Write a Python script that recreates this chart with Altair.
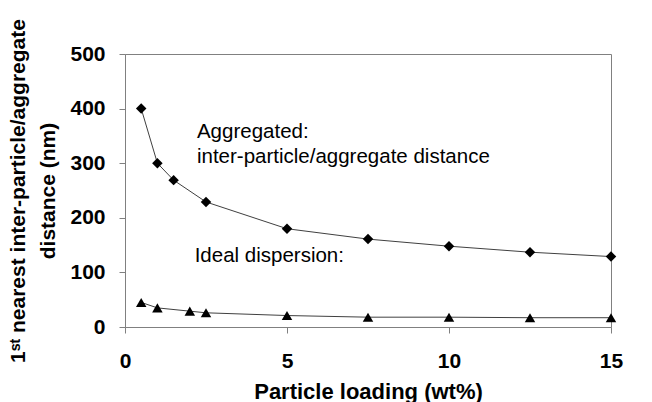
import altair as alt
import pandas as pd

# Aggregated series (diamonds)
agg_x = [0.5, 1, 1.5, 2.5, 5, 7.5, 10, 12.5, 15]
agg_y = [400, 300, 269, 229, 180, 161, 148, 137, 129]
# Ideal dispersion series (triangles)
ideal_x = [0.5, 1, 2, 2.5, 5, 7.5, 10, 12.5, 15]
ideal_y = [45, 35, 29, 26, 21, 18, 18, 17, 17]

x_ticks = [0, 5, 10, 15]
y_ticks = [0, 100, 200, 300, 400, 500]

ann_text = ["Aggregated:", "inter-particle/aggregate distance", "Ideal dispersion:"]
ann_x = [2.22, 2.22, 2.15]
ann_y = [358, 311, 130]

agg = pd.DataFrame({"x": agg_x, "y": agg_y})
ideal = pd.DataFrame({"x": ideal_x, "y": ideal_y})
ann = pd.DataFrame({"x": ann_x, "y": ann_y, "t": ann_text})

FONT = "Liberation Sans"

xs = alt.Scale(domain=[0, 15], nice=False)
ys = alt.Scale(domain=[0, 500], nice=False)

xenc = alt.X("x:Q", scale=xs, axis=alt.Axis(
    values=x_ticks, title="Particle loading (wt%)", grid=False, labelFlush=False,
    labelFontSize=21, labelFontWeight="bold", labelFont=FONT, labelColor="black",
    titleFontSize=22, titleFontWeight="bold", titleFont=FONT, titleColor="black",
    labelPadding=17, titlePadding=10, tickSize=6, domainColor="#808080", tickColor="#808080"))
yenc = alt.Y("y:Q", scale=ys, axis=alt.Axis(
    values=y_ticks, title=["1ˢᵗ nearest inter-particle/aggregate", "distance (nm)"], grid=False,
    labelFlush=False,
    labelFontSize=21, labelFontWeight="bold", labelFont=FONT, labelColor="black",
    titleFontSize=21, titleFontWeight="bold", titleFont=FONT, titleColor="black",
    titleLineHeight=30, labelPadding=14, titlePadding=11, tickSize=6,
    domainColor="#808080", tickColor="#808080"))

agg_line = alt.Chart(agg).mark_line(color="#404040", strokeWidth=1).encode(x=xenc, y=yenc)
agg_pts = alt.Chart(agg).mark_point(shape="diamond", filled=True, color="black", size=110, opacity=1).encode(x="x:Q", y="y:Q")
ideal_line = alt.Chart(ideal).mark_line(color="#404040", strokeWidth=1).encode(x="x:Q", y="y:Q")
ideal_pts = alt.Chart(ideal).mark_point(shape="triangle-up", filled=True, color="black", size=110, opacity=1).encode(x="x:Q", y="y:Q")
texts = alt.Chart(ann).mark_text(align="left", baseline="middle", fontSize=20.5, font=FONT, color="black").encode(
    x="x:Q", y="y:Q", text="t:N")

chart = alt.layer(agg_line, ideal_line, agg_pts, ideal_pts, texts).properties(
    width=486, height=273,
    autosize=alt.AutoSizeParams(type="none"),
    padding={"left": 125, "top": 54, "right": 41, "bottom": 75},
    background="white",
).configure_view(stroke="#808080", strokeWidth=1)

chart.save("out.html", embed_options={"renderer": "svg", "actions": False})
